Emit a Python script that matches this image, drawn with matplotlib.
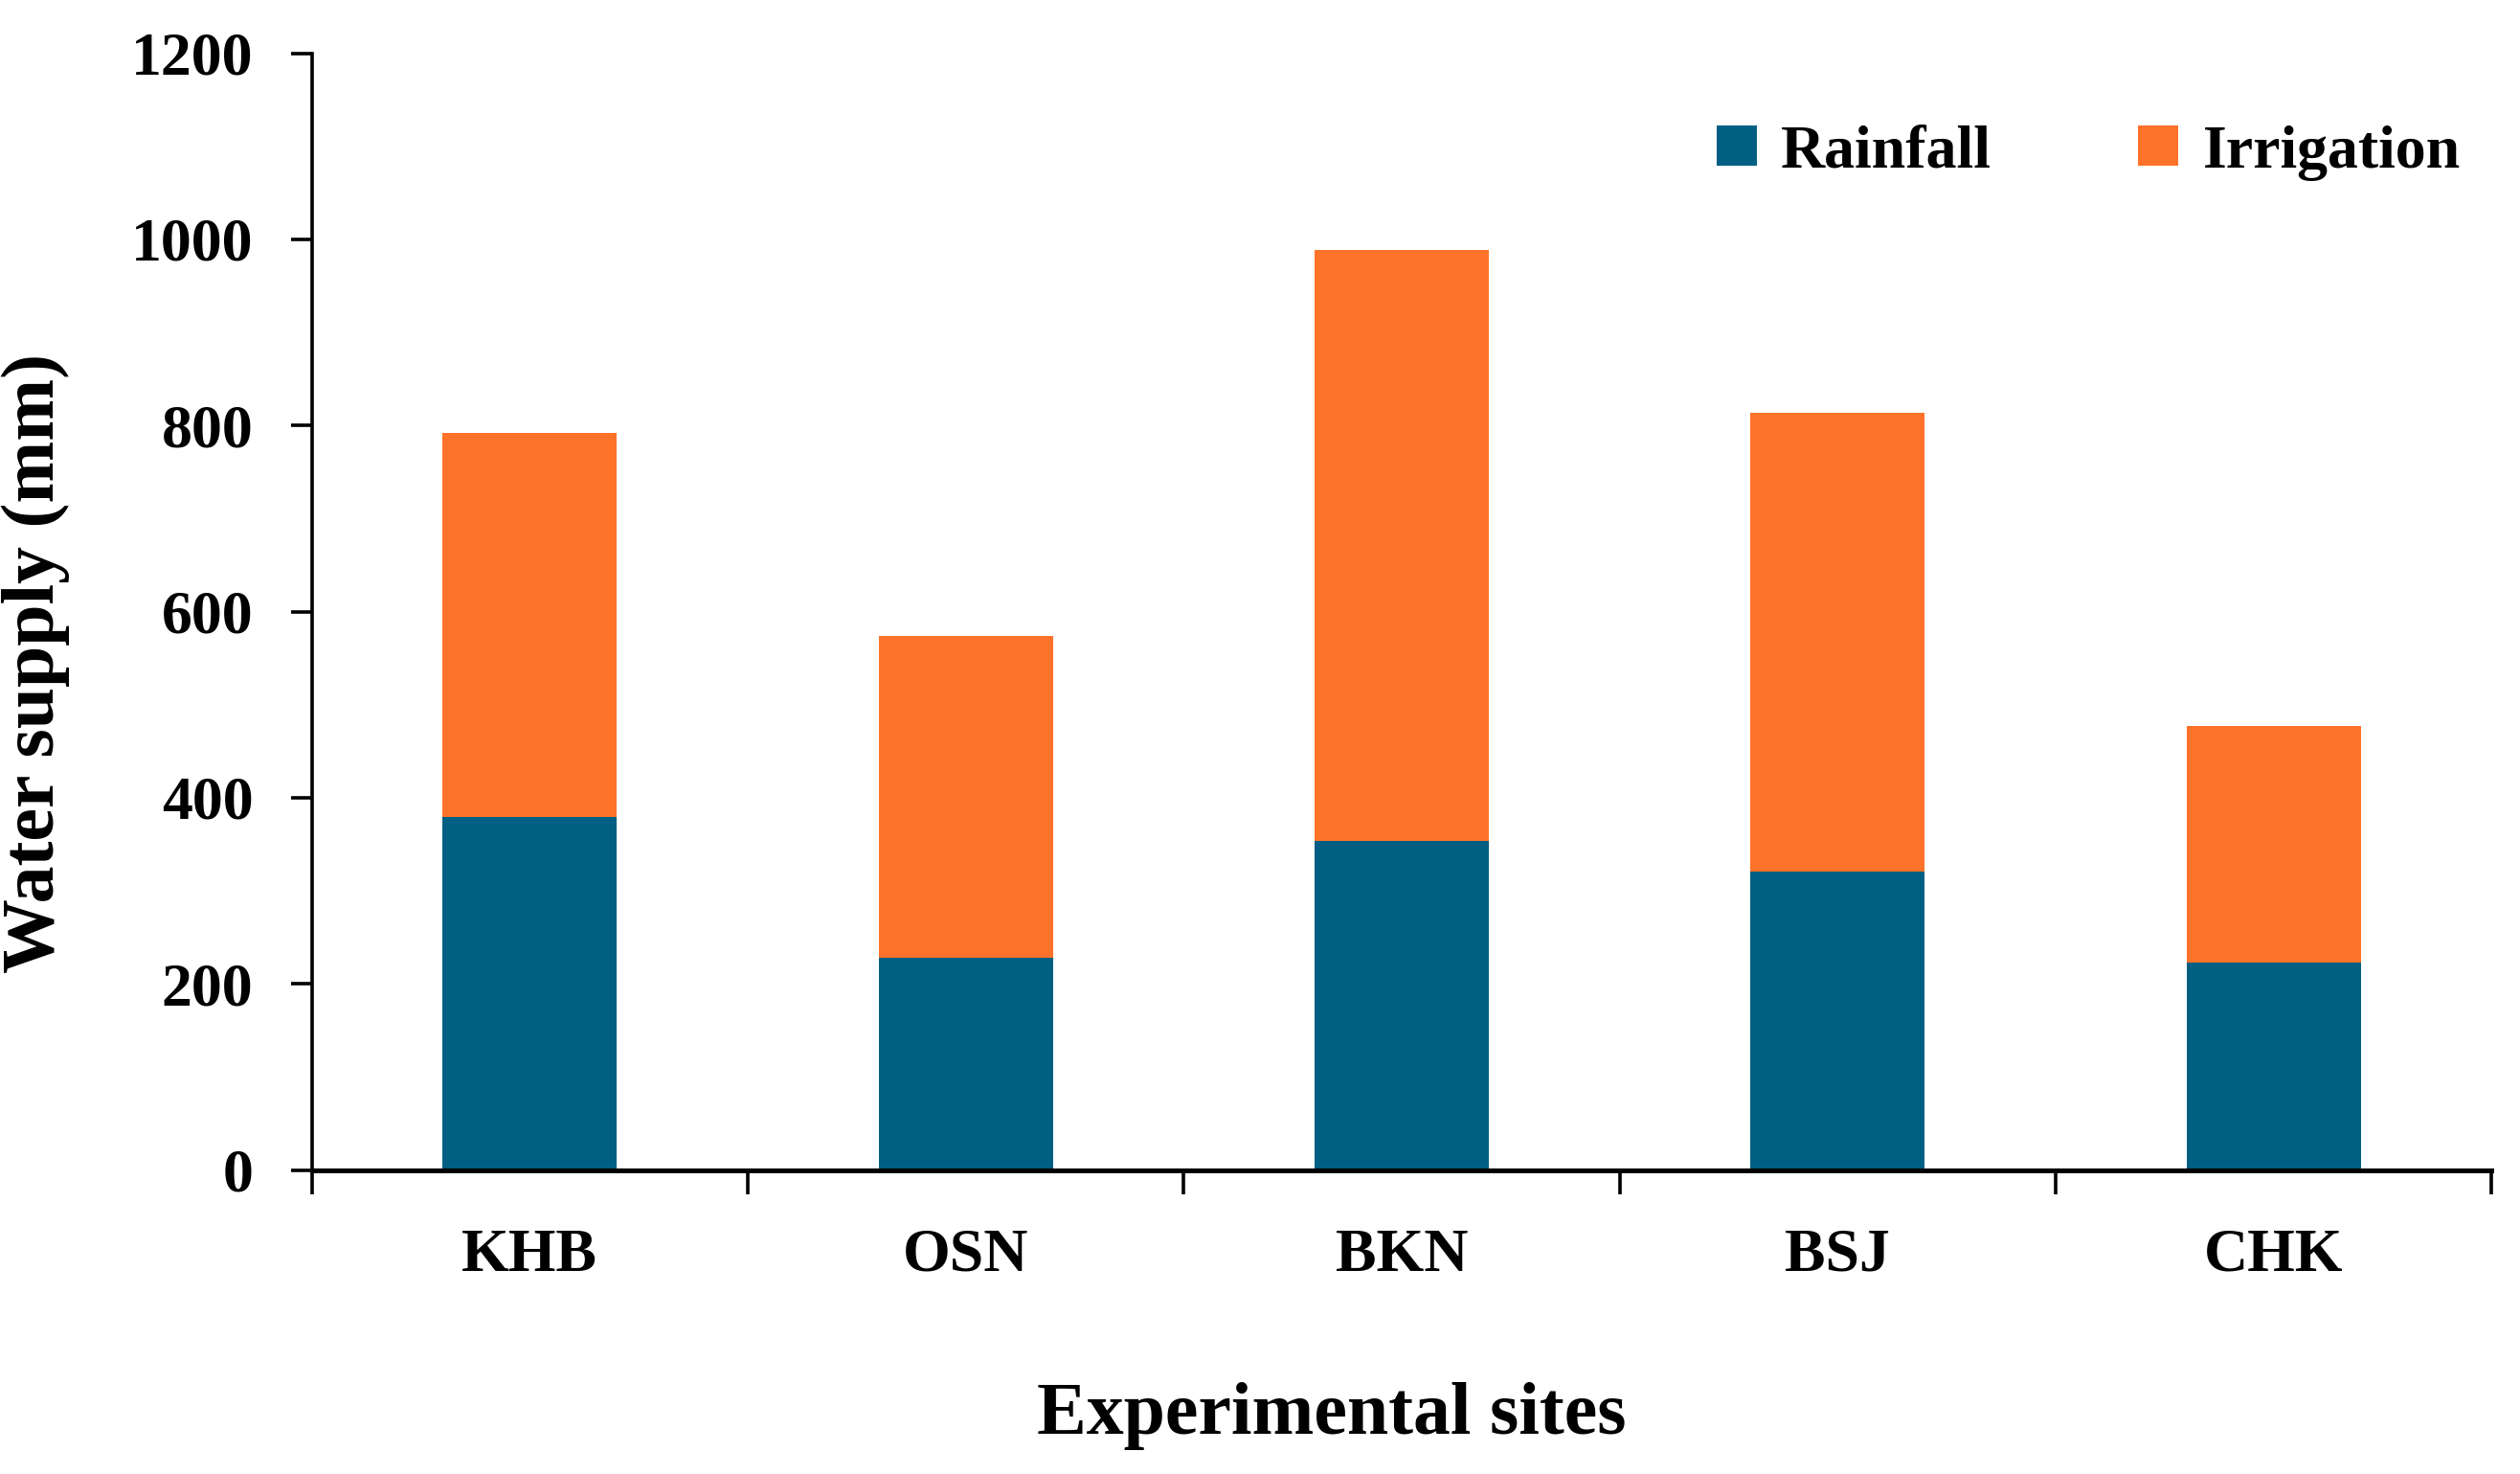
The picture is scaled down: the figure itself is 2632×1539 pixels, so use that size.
import matplotlib
matplotlib.use("Agg")
import matplotlib.pyplot as plt
import numpy as np

# ------------------------------------------------------------------ #
#  Data                                #
# ------------------------------------------------------------------ #
sites = ["KHB", "OSN", "BKN", "BSJ", "CHK"]
rainfall = [379, 228, 354, 321, 223]
irrigation = [413, 346, 635, 493, 254]
yticks = [0, 200, 400, 600, 800, 1000, 1200]

RAIN_COLOR = "#005f82"
IRR_COLOR = "#ff7229"
FONT = ["Liberation Serif", "DejaVu Serif"]

plt.rcParams["font.family"] = FONT
plt.rcParams["font.weight"] = "bold"

fig = plt.figure(figsize=(13.16, 7.695), dpi=200)
ax = fig.add_axes([0.1237, 0.2062, 0.8650, 0.7577])

x = np.arange(len(sites))
ax.bar(x, rainfall, width=0.4, color=RAIN_COLOR, label="Rainfall")
ax.bar(x, irrigation, width=0.4, bottom=rainfall, color=IRR_COLOR, label="Irrigation")

ax.set_xlim(-0.5, len(sites) - 0.5)
ax.set_ylim(0, 1200)
ax.set_yticks(yticks)
ax.set_xticks(x)
ax.set_xticklabels(sites)
ax.set_xticks(np.arange(-0.5, len(sites)), minor=True)

for side in ("top", "right"):
    ax.spines[side].set_visible(False)
ax.spines["left"].set_linewidth(1.3)
ax.spines["bottom"].set_linewidth(1.8)

ax.tick_params(axis="y", direction="out", length=8, width=1.3, pad=14, labelsize=23)
ax.tick_params(axis="x", which="major", length=0, pad=22, labelsize=23)
ax.tick_params(axis="x", which="minor", direction="out", length=9, width=1.3)

ax.set_ylabel("Water supply (mm)", fontsize=28, fontweight="bold")
ax.set_xlabel("Experimental sites", fontsize=28, fontweight="bold")
# the reference places both axis titles slightly off-centre
ax.xaxis.set_label_coords(0.468, -0.19)
ax.yaxis.set_label_coords(-0.111, 0.454)

ax.legend(loc="upper right", bbox_to_anchor=(1.011, 0.985), ncol=2, frameon=False,
          fontsize=23, handlelength=0.65, handleheight=0.65, handletextpad=0.4,
          columnspacing=2.4)

fig.savefig("out.png", dpi=200, facecolor="white")
plt.close(fig)
